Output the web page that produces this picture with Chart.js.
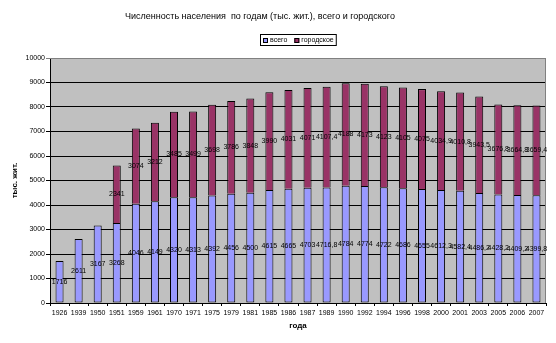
<!DOCTYPE html>
<html>
<head>
<meta charset="utf-8">
<script src="https://cdn.jsdelivr.net/npm/chart.js@4.4.1/dist/chart.umd.min.js"></script>
<style>
  html, body { margin: 0; padding: 0; background: #fff; }
  #wrap { width: 556px; height: 343px; }
</style>
</head>
<body>
<div id="wrap"><canvas id="population-chart" width="556" height="343"></canvas></div>
<script>
// data (тыс. жит.)
const years = ['1926', '1939', '1950', '1951', '1959', '1961', '1970', '1971', '1975', '1979',
  '1981', '1985', '1986', '1987', '1989', '1990', '1992', '1994', '1996', '1998',
  '2000', '2001', '2003', '2005', '2006', '2007'];
const vsego = [1716, 2611, 3167, 3268, 4046, 4149, 4320, 4313, 4392, 4456,
  4500, 4615, 4665, 4703, 4716.8, 4784, 4774, 4722, 4686, 4655,
  4612.3, 4582.4, 4486.2, 4428.2, 4409.2, 4399.8];
const gorodskoe = [null, null, null, 2341, 3074, 3212, 3485, 3499, 3698, 3786,
  3848, 3990, 4031, 4071, 4107.4, 4188, 4173, 4123, 4105, 4075,
  4034.9, 4010.8, 3943.5, 3676.8, 3664.8, 3659.4];
const seriesNames = ['всего', 'городское'];
const seriesColors = ['#9999FF', '#993366'];
const chartTitle = 'Численность населения  по годам (тыс. жит.), всего и городского';
const yMax = 10000;
const yStep = 1000;

const FONT = 'Arial, "Liberation Sans", sans-serif';
Chart.defaults.font.family = FONT;
Chart.defaults.color = '#000';

// grey plot area
const plotBackground = {
  id: 'plotBackground',
  beforeDraw(chart) {
    const {ctx, chartArea: a} = chart;
    ctx.save();
    ctx.fillStyle = '#C0C0C0';
    ctx.fillRect(a.left, a.top, a.right - a.left, a.bottom - a.top);
    ctx.restore();
  }
};

// grey frame on top and right, like excel
const plotFrame = {
  id: 'plotFrame',
  beforeDatasetsDraw(chart) {
    const {ctx, chartArea: a} = chart;
    ctx.save();
    ctx.strokeStyle = '#808080';
    ctx.lineWidth = 1;
    ctx.beginPath();
    ctx.moveTo(a.left, Math.round(a.top) + 0.5);
    ctx.lineTo(Math.round(a.right) - 0.5, Math.round(a.top) + 0.5);
    ctx.lineTo(Math.round(a.right) - 0.5, a.bottom);
    ctx.stroke();
    ctx.restore();
  }
};

// value labels in the middle of each segment
const barLabels = {
  id: 'barLabels',
  afterDatasetsDraw(chart) {
    const {ctx} = chart;
    ctx.save();
    ctx.font = '7px ' + FONT;
    ctx.fillStyle = '#000';
    ctx.textAlign = 'center';
    ctx.textBaseline = 'middle';
    chart.data.datasets.forEach((ds, i) => {
      const meta = chart.getDatasetMeta(i);
      meta.data.forEach((bar, j) => {
        const v = ds.data[j];
        if (v == null) return;
        const {x, y, base} = bar.getProps(['x', 'y', 'base'], true);
        ctx.fillText(String(v).replace('.', ','), x, (y + base) / 2);
      });
    });
    ctx.restore();
  }
};

// title and boxed legend
const header = {
  id: 'header',
  afterDraw(chart) {
    const {ctx, chartArea: a} = chart;
    ctx.save();
    ctx.fillStyle = '#000';
    ctx.font = '9px ' + FONT;
    ctx.textAlign = 'center';
    ctx.textBaseline = 'middle';
    ctx.fillText(chartTitle, 260, 17);

    ctx.font = '7px ' + FONT;
    const widths = seriesNames.map(n => ctx.measureText(n).width);
    const itemW = widths.map(w => 5 + 2 + w);
    const gap = 7;
    const inner = itemW[0] + gap + itemW[1];
    const boxW = inner + 6;
    const boxX = Math.round((a.left + a.right) / 2 - boxW / 2);
    const boxY = 34;
    ctx.fillStyle = '#fff';
    ctx.fillRect(boxX, boxY, boxW, 12);
    ctx.strokeStyle = '#000';
    ctx.lineWidth = 1;
    ctx.strokeRect(boxX + 0.5, boxY + 0.5, boxW - 1, 11);
    let x = boxX + 3;
    seriesNames.forEach((n, i) => {
      ctx.fillStyle = seriesColors[i];
      ctx.fillRect(x, 38, 5, 5);
      ctx.strokeStyle = '#000';
      ctx.strokeRect(x + 0.5, 38.5, 4, 4);
      ctx.fillStyle = '#000';
      ctx.textAlign = 'left';
      ctx.fillText(n, x + 7, 40.5);
      x += itemW[i] + gap;
    });
    ctx.restore();
  }
};

new Chart(document.getElementById('population-chart'), {
  type: 'bar',
  data: {
    labels: years,
    datasets: [
      {
        label: seriesNames[0],
        data: vsego,
        backgroundColor: seriesColors[0],
        borderColor: '#000',
        borderWidth: 1,
        borderSkipped: false,
        barPercentage: 0.42,
        categoryPercentage: 1
      },
      {
        label: seriesNames[1],
        data: gorodskoe,
        backgroundColor: seriesColors[1],
        borderColor: '#000',
        borderWidth: 1,
        barPercentage: 0.42,
        categoryPercentage: 1
      }
    ]
  },
  options: {
    responsive: false,
    devicePixelRatio: 1,
    animation: false,
    layout: { padding: { top: 58, right: 10, bottom: 0, left: 0 } },
    plugins: {
      legend: { display: false },
      title: { display: false },
      tooltip: { enabled: false }
    },
    scales: {
      x: {
        stacked: true,
        afterFit(scale) { scale.height = 40; },
        grid: { drawOnChartArea: false, tickLength: 3, color: '#000' },
        border: { color: '#000' },
        ticks: { font: { size: 7 }, padding: 3, autoSkip: false, maxRotation: 0 },
        title: {
          display: true,
          text: 'года',
          font: { size: 8, weight: 'bold' },
          padding: { top: 0, bottom: 12 }
        }
      },
      y: {
        stacked: true,
        min: 0,
        max: yMax,
        afterFit(scale) { scale.width = 50; },
        grid: {
          color: ctx => (ctx.tick && ctx.tick.value === yMax ? '#808080' : '#000'),
          tickLength: 4
        },
        border: { color: '#000' },
        ticks: {
          stepSize: yStep,
          font: { size: 7 },
          padding: 1,
          callback: v => String(v)
        },
        title: {
          display: true,
          text: 'тыс. жит.',
          font: { size: 8, weight: 'bold' },
          padding: { top: 10, bottom: 0 }
        }
      }
    }
  },
  plugins: [plotBackground, plotFrame, barLabels, header]
});
</script>
</body>
</html>
